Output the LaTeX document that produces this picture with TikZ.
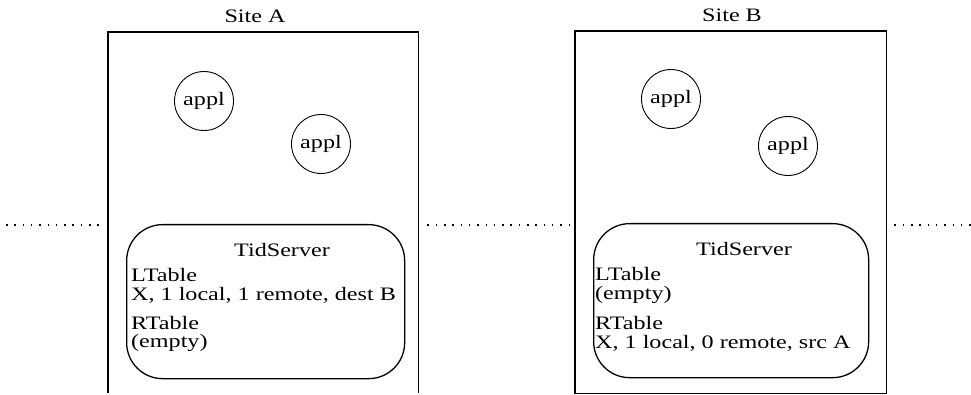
\documentclass[tikz,border=0pt]{standalone}
\usepackage{fontspec}
\setmainfont{Liberation Serif}[FakeStretch=1.27]
\begin{document}
\begin{tikzpicture}[x=1pt,y=-1pt,
  every node/.style={font=\fontsize{19}{19}\selectfont},
  sitebox/.style={draw=none, inner sep=0, anchor=north west},
  frame/.style={line width=1.5pt},
  appl/.style={draw, circle, line width=0.9pt, minimum size=59pt, inner sep=0},
  tid/.style={draw, line width=1.3pt, rounded corners=36pt, inner sep=0, anchor=north west},
  txt/.style={inner sep=0, anchor=base west},
  ttl/.style={inner sep=0, anchor=base},
  dotline/.style={line width=1.5pt, dash pattern=on 1.5pt off 6.8pt}
]
\useasboundingbox (0,0) rectangle (971,395);

% site frames
\node[sitebox, minimum width=310pt, minimum height=361pt] (boxA) at (108,32) {};
\node[sitebox, minimum width=311pt, minimum height=362pt] (boxB) at (575,31) {};
\draw[frame] (boxA.south west) |- (boxA.north east) -- (boxA.south east);
\draw[frame] (boxB.south west) rectangle (boxB.north east);

\node[ttl] (siteA) at (255,23) {Site A};
\node[ttl] (siteB) at (732,22) {Site B};

% applications
\node[appl] (a1) at (204,101) {appl};
\node[appl] (a2) at (321,144) {appl};
\node[appl] (b1) at (671,99) {appl};
\node[appl] (b2) at (788,146) {appl};

% TidServers
\node[tid, minimum width=278pt, minimum height=154pt] (tsA) at (126,224) {};
\node[tid, minimum width=275pt, minimum height=154pt] (tsB) at (593,223) {};

\node[ttl] (tsAt) at (282,257) {TidServer};
\node[txt] (lA) at (131,281) {LTable};
\node[txt] (lAx) at (131,300) {X, 1 local, 1 remote, dest B};
\node[txt] (rA) at (131,329) {RTable};
\node[txt] (rAx) at (131,347) {(empty)};

\node[ttl] (tsBt) at (744,255) {TidServer};
\node[txt] (lB) at (595,280) {LTable};
\node[txt] (lBx) at (595,299) {(empty)};
\node[txt] (rB) at (595,329) {RTable};
\node[txt] (rBx) at (595,348) {X, 1 local, 0 remote, src A};

% dotted separators
\coordinate (dl) at (6,225);
\coordinate (dr) at (971,225);
\draw[dotline, shorten >=5pt] (dl) -- (dl -| boxA.west);
\draw[dotline, shorten <=9pt, shorten >=6pt] (dl -| boxA.east) -- (dl -| boxB.west);
\draw[dotline, shorten <=8pt] (dl -| boxB.east) -- (dr);
\end{tikzpicture}
\end{document}
